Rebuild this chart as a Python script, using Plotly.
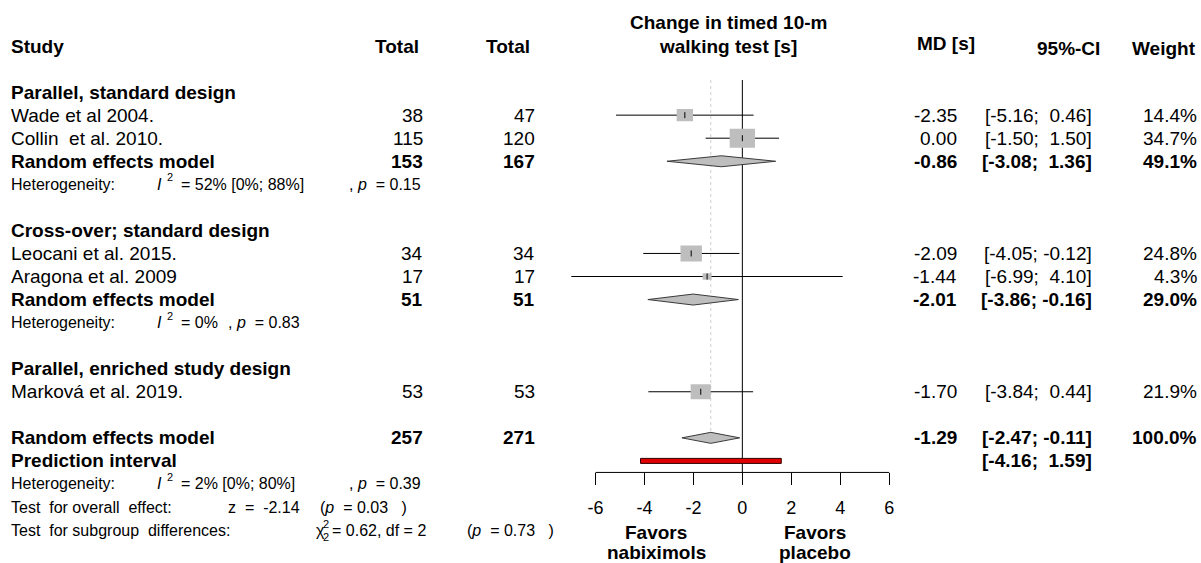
import math
import plotly.graph_objects as go

# ---------------- data ----------------
study = ["Wade et al 2004.", "Collin  et al. 2010.", "Leocani et al. 2015.",
         "Aragona et al. 2009", "Marková et al. 2019."]
study_group = [0, 0, 1, 1, 2]
total_exp = [38, 115, 34, 17, 53]
total_ctl = [47, 120, 34, 17, 53]
md = [-2.35, 0.00, -2.09, -1.44, -1.70]
ci_lo = [-5.16, -1.50, -4.05, -6.99, -3.84]
ci_hi = [0.46, 1.50, -0.12, 4.10, 0.44]
weight = [14.4, 34.7, 24.8, 4.3, 21.9]

group_names = ["Parallel, standard design", "Cross-over; standard design",
               "Parallel, enriched study design"]
group_model = [True, True, False]
grp_exp = [153, 51, None]
grp_ctl = [167, 51, None]
grp_md = [-0.86, -2.01, None]
grp_lo = [-3.08, -3.86, None]
grp_hi = [1.36, -0.16, None]
grp_w = [49.1, 29.0, None]
grp_i2 = ["52% [0%; 88%]", "0%", None]
grp_p = ["0.15", "0.83", None]

overall_exp = 257
overall_ctl = 271
overall_md = -1.29
overall_lo = -2.47
overall_hi = -0.11
overall_w = 100.0
pred_lo = -4.16
pred_hi = 1.59
overall_i2 = "2% [0%; 80%]"
overall_p = "0.39"
test_z = "-2.14"
test_z_p = "0.03"
subgroup_chi = "0.62"
subgroup_df = "2"
subgroup_p = "0.73"

tick_vals = [-6, -4, -2, 0, 2, 4, 6]
tick_text = ["-6", "-4", "-2", "0", "2", "4", "6"]

# ---------------- layout constants ----------------
W, H = 1201, 563
ROW0 = 46.0        # pixel y of row 0
ROWPX = 23.05      # pixels per row
X0PX = 742.35      # pixel x of value 0
UNIT = 24.475      # pixels per unit
XR = 8.0           # data range half-width

FONT = "Liberation Sans, Arial, Helvetica, sans-serif"
FS = 19
FS_SMALL = 16
FS_TINY = 11
GRAY = "#bebebe"

def px(x):
    return x / W

def rowpx(p):
    return (p - ROW0) / ROWPX

# ---------------- row structure ----------------
rows_study = []
rows_group_head = []
rows_group_model = []
rows_group_het = []
r = 2
for g in range(len(group_names)):
    rows_group_head.append(r)
    r += 1
    for i in range(len(study)):
        if study_group[i] == g:
            rows_study.append(r)
            r += 1
    if group_model[g]:
        rows_group_model.append(r)
        rows_group_het.append(r + 1)
        r += 2
    else:
        rows_group_model.append(None)
        rows_group_het.append(None)
    r += 1
row_overall = r
row_pred = r + 1
row_het = r + 2
row_test = r + 3
row_sub = r + 4
row_axis = row_pred + 0.5

fig = go.Figure()
ann = []
shapes = []

def text(x, y, s, anchor="left", size=FS, bold=False, yref="y"):
    if bold:
        s = "<b>" + s + "</b>"
    ann.append(dict(x=px(x), xref="paper", y=y, yref=yref, text=s,
                    xanchor=anchor, yanchor="middle", showarrow=False,
                    font=dict(family=FONT, size=size, color="black")))

def fmt_ci(lo, hi):
    return ("[%.2f; %5.2f]" % (lo, hi)).replace(" ", "\u00a0")

def het_line(rr, i2, p, xp):
    text(9, rr, "Heterogeneity:", size=FS_SMALL)
    text(155, rr, "<i>I</i>", size=FS_SMALL)
    text(165, rr - 0.3, "2", size=FS_TINY)
    text(179, rr, "= " + i2, size=FS_SMALL)
    text(xp, rr, ", <i>p</i> \u00a0= " + p, size=FS_SMALL)

# ---------------- reference lines ----------------
dia_h = 5.5 / ROWPX
fig.add_trace(go.Scatter(x=[overall_md, overall_md], y=[rowpx(80), row_overall - dia_h],
                         mode="lines", line=dict(color="#cfcfcf", width=1, dash="dot"),
                         hoverinfo="skip"))
fig.add_trace(go.Scatter(x=[0, 0], y=[rowpx(80), row_axis], mode="lines",
                         line=dict(color="black", width=1), hoverinfo="skip"))
# axis baseline spanning the tick range
fig.add_trace(go.Scatter(x=[min(tick_vals), max(tick_vals)], y=[row_axis, row_axis],
                         mode="lines", line=dict(color="black", width=1), hoverinfo="skip"))

# ---------------- study CI lines, squares ----------------
for i in range(len(study)):
    rr = rows_study[i]
    fig.add_trace(go.Scatter(x=[ci_lo[i], ci_hi[i]], y=[rr, rr], mode="lines",
                             line=dict(color="black", width=1), hoverinfo="skip"))
    sw = 4.3 * math.sqrt(weight[i])
    sh = 3.2 * math.sqrt(weight[i])
    shapes.append(dict(type="rect", xref="x", yref="y", xsizemode="pixel", ysizemode="pixel",
                       xanchor=md[i], yanchor=rr, x0=-sw / 2, x1=sw / 2, y0=-sh / 2, y1=sh / 2,
                       fillcolor=GRAY, line=dict(width=0), layer="above"))
    shapes.append(dict(type="line", xref="x", yref="y", ysizemode="pixel", yanchor=rr,
                       x0=md[i], x1=md[i], y0=-3, y1=3,
                       line=dict(color="black", width=1), layer="above"))

# ---------------- diamonds ----------------
def diamond(m, lo, hi, rr):
    fig.add_trace(go.Scatter(x=[lo, m, hi, m, lo], y=[rr, rr - dia_h, rr, rr + dia_h, rr],
                             mode="lines", fill="toself", fillcolor=GRAY,
                             line=dict(color="#3a3a3a", width=1), hoverinfo="skip"))

for g in range(len(group_names)):
    if group_model[g]:
        diamond(grp_md[g], grp_lo[g], grp_hi[g], rows_group_model[g])
diamond(overall_md, overall_lo, overall_hi, row_overall)

# prediction interval
shapes.append(dict(type="rect", xref="x", yref="y", ysizemode="pixel", yanchor=row_pred,
                   x0=pred_lo, x1=pred_hi, y0=-2.5, y1=2.5, fillcolor="#e00000",
                   line=dict(color="#300000", width=1), layer="above"))

# ---------------- text columns ----------------
X_STUDY = 9
X_T1, X_T1H = 425, 421
X_T2, X_T2H = 537, 532
X_MD = 959
X_CI = 1094
X_W = 1199

text(X_STUDY, 0, "Study", bold=True)
text(X_T1H, 0, "Total", "right", bold=True)
text(X_T2H, 0, "Total", "right", bold=True)
text(728, -1, "Change in timed 10-m", "center", bold=True)
text(728, 0, "walking test [s]", "center", bold=True)
text(946, rowpx(43), "MD [s]", "center", bold=True)
text(1102, rowpx(48), "95%-CI", "right", bold=True)
text(1198, rowpx(48), "Weight", "right", bold=True)

for i in range(len(study)):
    rr = rows_study[i]
    text(X_STUDY, rr, study[i].replace("  ", "\u00a0 "))
    text(X_T1, rr, str(total_exp[i]), "right")
    text(X_T2, rr, str(total_ctl[i]), "right")
    text(X_MD, rr, "%.2f" % md[i], "right")
    text(X_CI, rr, fmt_ci(ci_lo[i], ci_hi[i]), "right")
    text(X_W, rr, "%.1f%%" % weight[i], "right")

for g in range(len(group_names)):
    text(X_STUDY, rows_group_head[g], group_names[g], bold=True)
    if group_model[g]:
        rr = rows_group_model[g]
        text(X_STUDY, rr, "Random effects model", bold=True)
        text(X_T1, rr, str(grp_exp[g]), "right", bold=True)
        text(X_T2, rr, str(grp_ctl[g]), "right", bold=True)
        text(X_MD, rr, "%.2f" % grp_md[g], "right", bold=True)
        text(X_CI, rr, fmt_ci(grp_lo[g], grp_hi[g]), "right", bold=True)
        text(X_W, rr, "%.1f%%" % grp_w[g], "right", bold=True)
        xp = 347 if len(grp_i2[g]) > 4 else 226
        het_line(rows_group_het[g], grp_i2[g], grp_p[g], xp)

text(X_STUDY, row_overall, "Random effects model", bold=True)
text(X_T1, row_overall, str(overall_exp), "right", bold=True)
text(X_T2, row_overall, str(overall_ctl), "right", bold=True)
text(X_MD, row_overall, "%.2f" % overall_md, "right", bold=True)
text(X_CI, row_overall, fmt_ci(overall_lo, overall_hi), "right", bold=True)
text(X_W, row_overall, "%.1f%%" % overall_w, "right", bold=True)
text(X_STUDY, row_pred, "Prediction interval", bold=True)
text(X_CI, row_pred, fmt_ci(pred_lo, pred_hi), "right", bold=True)

het_line(row_het, overall_i2, overall_p, 347)
text(X_STUDY, row_test, "Test \u00a0for overall \u00a0effect:", size=FS_SMALL)
text(226, row_test, "z \u00a0= \u00a0" + test_z, size=FS_SMALL)
text(318, row_test, "(<i>p</i> \u00a0= " + test_z_p + " \u00a0 )", size=FS_SMALL)
text(X_STUDY, row_sub, "Test \u00a0for subgroup \u00a0differences:", size=FS_SMALL)
text(314, row_sub, "\u03c7", size=FS_SMALL)
text(321, row_sub - 0.28, "2", size=FS_TINY)
text(321, row_sub + 0.3, "2", size=FS_TINY)
text(330, row_sub, "= " + subgroup_chi + ", df = " + subgroup_df, size=FS_SMALL)
text(465, row_sub, "(<i>p</i> \u00a0= " + subgroup_p + " \u00a0 )", size=FS_SMALL)

# favours labels under axis
text(656, rowpx(532), "Favors", "center", bold=True)
text(656, rowpx(552), "nabiximols", "center", bold=True)
text(815, rowpx(532), "Favors", "center", bold=True)
text(815, rowpx(552), "placebo", "center", bold=True)

axis_pos = 1 - (ROW0 + row_axis * ROWPX) / H

fig.update_layout(
    width=W, height=H, autosize=False,
    margin=dict(l=0, r=0, t=0, b=0, pad=0),
    paper_bgcolor="white", plot_bgcolor="rgba(0,0,0,0)",
    showlegend=False,
    annotations=ann, shapes=shapes,
    xaxis=dict(range=[-XR, XR],
               domain=[px(X0PX - XR * UNIT), px(X0PX + XR * UNIT)],
               anchor="free", position=axis_pos,
               showgrid=False, zeroline=False, showline=False,
               tickmode="array", tickvals=tick_vals, ticktext=tick_text,
               ticks="outside", ticklen=12, tickwidth=1, tickcolor="black",
               ticklabelstandoff=7,
               tickfont=dict(family=FONT, size=18, color="black"),
               fixedrange=True),
    yaxis=dict(range=[(H - ROW0) / ROWPX, -ROW0 / ROWPX], domain=[0, 1],
               visible=False, fixedrange=True),
)

fig.write_html("out.html", config={"displayModeBar": False},
               post_script="document.body.style.margin='0px';document.body.style.overflow='hidden';")
